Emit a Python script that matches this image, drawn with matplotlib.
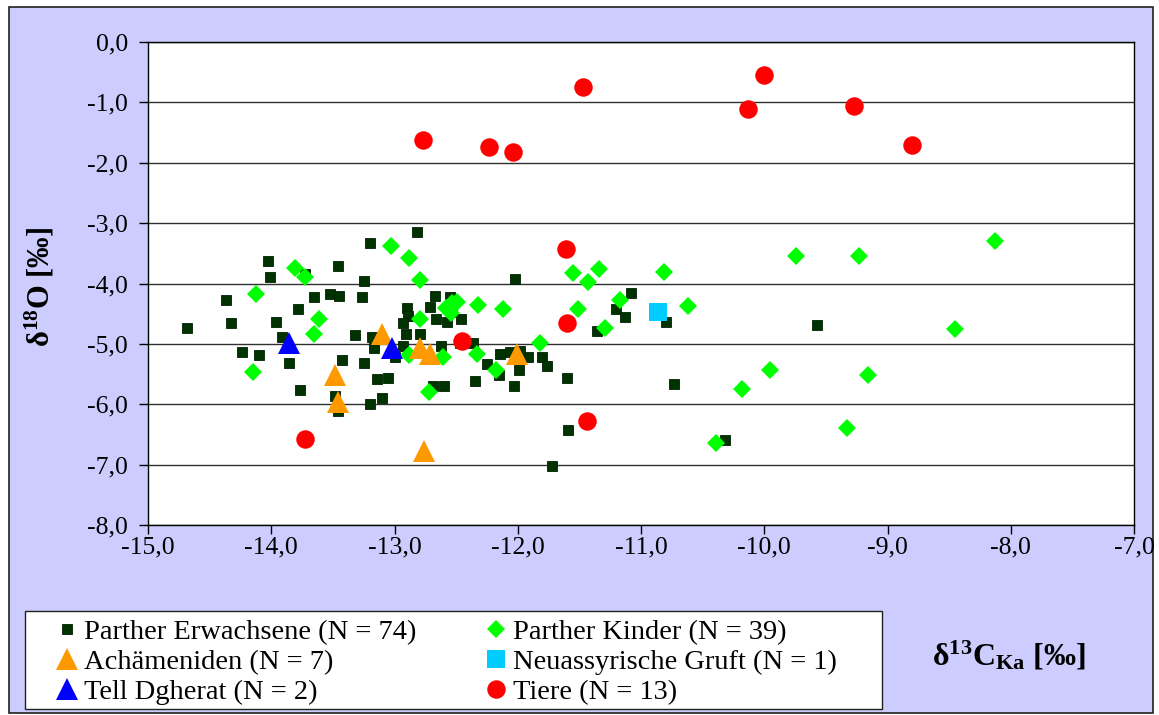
import matplotlib
matplotlib.use("Agg")
import matplotlib.pyplot as plt
from matplotlib.ticker import MultipleLocator, FuncFormatter
from matplotlib.patches import Rectangle

plt.rcParams['font.family'] = ['Liberation Serif', 'DejaVu Serif']
plt.rcParams['mathtext.fontset'] = 'custom'
plt.rcParams['mathtext.rm'] = 'Liberation Serif'
plt.rcParams['mathtext.bf'] = 'Liberation Serif:bold'
plt.rcParams['mathtext.it'] = 'Liberation Serif:italic'

# d13C / d18O values per group
erw_x = [-14.68, -14.37, -14.33, -14.24, -14.10, -14.03, -14.01, -13.96, -13.91, -13.86,
         -13.78, -13.77, -13.65, -13.52, -13.45, -13.46, -13.43, -13.48, -13.46, -13.32,
         -13.18, -13.17, -13.26, -13.25, -13.20, -13.25, -13.14, -13.20, -13.10, -13.05,
         -12.82, -12.67, -12.71, -12.55, -12.90, -12.89, -12.93, -12.91, -12.66, -12.57,
         -12.46, -12.93, -12.62, -12.36, -12.14, -12.06, -11.92, -11.80, -11.76, -11.99,
         -12.25, -12.15, -12.35, -12.03, -12.69, -12.60, -12.02, -11.08, -11.20, -11.13,
         -11.36, -10.80, -11.60, -10.73, -11.59, -11.72, -10.32, -9.57, -11.98, -12.47,
         -13.00, -12.79, -12.53, -13.73]
erw_y = [-4.73, -4.28, -4.66, -5.14, -5.19, -3.63, -3.90, -4.63, -4.88, -5.32,
         -4.43, -5.77, -4.23, -4.18, -4.20, -3.71, -5.26, -5.87, -6.12, -4.86,
         -4.89, -5.07, -4.23, -3.96, -3.33, -5.31, -5.59, -5.99, -5.90, -5.56,
         -3.15, -4.21, -4.39, -4.23, -4.41, -4.54, -4.66, -4.83, -4.59, -4.63,
         -4.59, -5.04, -5.04, -4.99, -5.17, -5.14, -5.22, -5.22, -5.37, -5.44,
         -5.34, -5.52, -5.62, -5.70, -5.69, -5.70, -3.93, -4.16, -4.43, -4.56,
         -4.79, -4.63, -5.56, -5.67, -6.43, -7.03, -6.60, -4.69, -5.11, -4.98,
         -5.21, -4.83, -4.48, -3.85]

kind_x = [-14.12, -14.15, -13.81, -13.73, -13.61, -13.65, -13.03, -12.88, -12.79, -12.53,
          -12.54, -12.32, -12.12, -12.79, -12.88, -12.61, -12.33, -12.18, -12.72, -11.82,
          -11.55, -11.34, -11.43, -11.51, -11.17, -11.29, -10.81, -10.62, -9.74, -9.23,
          -8.13, -8.45, -9.95, -10.18, -9.16, -10.39, -9.33, -12.49, -12.58]
kind_y = [-4.18, -5.47, -3.75, -3.90, -4.59, -4.84, -3.38, -3.57, -3.95, -4.33,
          -4.49, -4.36, -4.43, -4.59, -5.19, -5.22, -5.16, -5.44, -5.80, -4.98,
          -3.83, -3.76, -3.98, -4.43, -4.28, -4.73, -3.81, -4.38, -3.55, -3.55,
          -3.30, -4.76, -5.44, -5.74, -5.52, -6.65, -6.40, -4.30, -4.41]

ach_x = [-13.48, -13.46, -13.10, -12.79, -12.71, -12.01, -12.76]
ach_y = [-5.51, -5.97, -4.83, -5.07, -5.16, -5.16, -6.78]

neu_x = [-10.86]
neu_y = [-4.48]

tell_x = [-13.86, -13.02]
tell_y = [-4.99, -5.07]

tiere_x = [-12.77, -12.23, -12.04, -11.47, -10.13, -10.00, -9.27, -8.80,
           -11.61, -11.60, -12.45, -11.44, -13.73]
tiere_y = [-1.63, -1.74, -1.82, -0.75, -1.11, -0.55, -1.06, -1.71,
           -3.43, -4.66, -4.96, -6.27, -6.58]

W, H = 1159, 715
fig = plt.figure(figsize=(W / 100, H / 100), dpi=100)
fig.patch.set_facecolor('white')
fig.patches.append(Rectangle((9 / W, 2 / H), 1144 / W, 706 / H, transform=fig.transFigure,
                             facecolor='#CCCCFF', edgecolor='#202020', lw=1.2, zorder=-10))
# legend box
fig.patches.append(Rectangle((25 / W, 6 / H), 857 / W, 98 / H, transform=fig.transFigure,
                             facecolor='white', edgecolor='#202020', lw=1, zorder=-5))

ax = fig.add_axes([148 / W, 190 / H, 986 / W, 483 / H])
ax.set_facecolor('white')

h1, = ax.plot(erw_x, erw_y, 's', ms=7.8, color='#003300', mec='#002000', mew=0.6,
              label='Parther Erwachsene (N = 74)', zorder=3)
h2, = ax.plot(kind_x, kind_y, 'D', ms=9.5, color='#00FF00', mec='#00FF00', mew=0,
              label='Parther Kinder (N = 39)', zorder=4)
h3, = ax.plot(ach_x, ach_y, '^', ms=16, color='#FF9900', mec='#FF9900', mew=0,
              label='Achämeniden (N = 7)', zorder=5)
h4, = ax.plot(neu_x, neu_y, 's', ms=13.5, color='#00CCFF', mec='#00CCFF', mew=0,
              label='Neuassyrische Gruft (N = 1)', zorder=6)
h5, = ax.plot(tell_x, tell_y, '^', ms=16, color='#0000FF', mec='#0000FF', mew=0,
              label='Tell Dgherat (N = 2)', zorder=7)
h6, = ax.plot(tiere_x, tiere_y, 'o', ms=13.3, color='#FF0000', mec='#FF0000', mew=0,
              label='Tiere (N = 13)', zorder=8)

ax.set_xlim(-15, -7)
ax.set_ylim(-8, 0)
ax.xaxis.set_major_locator(MultipleLocator(1))
ax.yaxis.set_major_locator(MultipleLocator(1))


def comma(v, pos):
    if abs(v) < 1e-9:
        v = 0.0
    return f'{v:.1f}'.replace('.', ',')


ax.xaxis.set_major_formatter(FuncFormatter(comma))
ax.yaxis.set_major_formatter(FuncFormatter(comma))
ax.tick_params(axis='both', direction='out', length=6.5, width=1, labelsize=18.5, color='black')
ax.tick_params(axis='y', pad=8)
ax.tick_params(axis='x', pad=2)
ax.grid(axis='y', color='#303030', lw=1)
ax.set_axisbelow(True)
for s in ax.spines.values():
    s.set_color('black')
    s.set_linewidth(1)

fig.text(40 / W, 1 - 287 / H, r'$\mathbf{\delta^{18}O}$' + ' [‰]', rotation=90,
         ha='center', va='center', fontsize=22, fontweight='bold')
fig.text(932 / W, 1 - 666 / H, r'$\mathbf{\delta^{13}C_{Ka}}$' + ' [‰]',
         ha='left', va='baseline', fontsize=23, fontweight='bold')

leg = fig.legend(handles=[h1, h3, h5, h2, h4, h6], ncol=2, loc='upper left',
                 bbox_to_anchor=(56 / W, 1 - 619 / H), fontsize=20.5, frameon=False,
                 borderaxespad=0, borderpad=0, handlelength=0.8, handletextpad=0.2,
                 labelspacing=0.14, columnspacing=2.38, numpoints=1)

fig.savefig('out.png', dpi=100, facecolor=fig.get_facecolor())
